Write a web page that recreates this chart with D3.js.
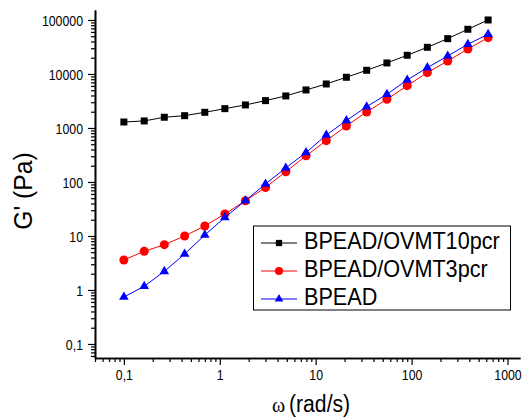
<!DOCTYPE html>
<html lang="en">
<head>
<meta charset="UTF-8">
<title>G' vs omega</title>
<script src="https://d3js.org/d3.v7.min.js"></script>
<style>
  body { margin: 0; background: #fff; }
  svg text { font-family: "Liberation Sans", Arial, sans-serif; fill: #000; }
</style>
</head>
<body>
<svg id="chart" width="524" height="419"></svg>
<script>
// values
const omega   = [0.1, 0.163, 0.264, 0.43, 0.698, 1.13, 1.85, 3.0, 4.88, 7.93, 12.9, 20.9, 34.0, 55.3, 90.0, 146, 238, 386, 628];
const g10pcr  = [1290, 1350, 1580, 1690, 1950, 2280, 2670, 3210, 3920, 5060, 6530, 8690, 11700, 16000, 22200, 31200, 45100, 67300, 100000];
const g3pcr   = [3.6, 5.2, 6.9, 10, 15.3, 25.5, 45, 79, 155, 305, 582, 1090, 1980, 3400, 6070, 10600, 17400, 29000, 47000];
const gPure   = [0.74, 1.17, 2.21, 4.64, 10.4, 22.1, 45, 92, 182, 350, 741, 1370, 2480, 4210, 7740, 13100, 21500, 35500, 54300];
const seriesNames = ["BPEAD/OVMT10pcr", "BPEAD/OVMT3pcr", "BPEAD"];
const xTicks = [0.1, 1, 10, 100, 1000];
const yTicks = [0.1, 1, 10, 100, 1000, 10000, 100000];
const tickLabel = v => v < 1 ? String(v).replace(".", ",") : String(v);

const svg = d3.select("#chart");
const plotLeft = 95, plotRight = 520, plotTop = 10, plotBottom = 358;

const x = d3.scaleLog().domain([0.05, 1350]).range([plotLeft, plotRight]);
const y = d3.scaleLog().domain([0.055, 153000]).range([plotBottom, plotTop]);

// squeeze text a bit, the original font is narrower than Arial
function squeeze(sel, k) {
    sel.each(function () {
        const w = this.getComputedTextLength();
        d3.select(this).attr("textLength", w * k).attr("lengthAdjust", "spacingAndGlyphs");
    });
}

function minorTicks(scale) {
    const [a, b] = scale.domain();
    const out = [];
    for (let e = Math.floor(Math.log10(a)); e <= Math.ceil(Math.log10(b)); e++) {
        for (let k = 2; k <= 9; k++) {
            const v = k * Math.pow(10, e);
            if (v >= a && v <= b) out.push(v);
        }
    }
    return out;
}

// axes
const gx = svg.append("g").attr("transform", `translate(0,${plotBottom})`);
gx.append("g").call(d3.axisBottom(x).tickValues(minorTicks(x)).tickSize(4).tickSizeOuter(0).tickFormat(""));
gx.append("g").call(d3.axisBottom(x).tickValues(xTicks).tickSize(7).tickSizeOuter(0).tickFormat(tickLabel));

const gy = svg.append("g").attr("transform", `translate(${plotLeft},0)`);
gy.append("g").call(d3.axisLeft(y).tickValues(minorTicks(y)).tickSize(4).tickSizeOuter(0).tickFormat(""));
gy.append("g").call(d3.axisLeft(y).tickValues(yTicks).tickSize(7).tickSizeOuter(0).tickFormat(tickLabel));

svg.selectAll(".domain").attr("stroke", "#000").attr("stroke-width", 1.6);
svg.selectAll(".tick line").attr("stroke", "#000").attr("stroke-width", 1.2);

gx.selectAll(".tick text")
    .attr("font-size", 14).attr("y", 12).attr("dy", "0.71em")
    .style("font-family", "Liberation Sans");
gy.selectAll(".tick text")
    .attr("font-size", 14).attr("x", -12).attr("dy", "0.36em")
    .style("font-family", "Liberation Sans");
squeeze(gx.selectAll(".tick text"), 0.88);
squeeze(gy.selectAll(".tick text"), 0.88);

// axis titles
const yTitle = svg.append("text")
    .attr("transform", "translate(32,191) rotate(-90)")
    .attr("text-anchor", "middle")
    .attr("font-size", 26)
    .text("G' (Pa)");
squeeze(yTitle, 0.95);

svg.append("text")
    .attr("x", 272).attr("y", 412)
    .attr("font-size", 20)
    .style("font-family", "Liberation Serif")
    .text("ω");
const xTitle = svg.append("text")
    .attr("x", 289).attr("y", 412)
    .attr("font-size", 23)
    .text("(rad/s)");
squeeze(xTitle, 0.92);

// series
const series = [
    { name: seriesNames[0], values: g10pcr, color: "#000000", shape: d3.symbolSquare, size: 49 },
    { name: seriesNames[1], values: g3pcr, color: "#ff0000", shape: d3.symbolCircle, size: 64 },
    { name: seriesNames[2], values: gPure, color: "#0000ff", shape: d3.symbolTriangle, size: 40 }
];

const line = d3.line().x(d => x(d[0])).y(d => y(d[1]));

series.forEach(s => {
    const pts = omega.map((w, i) => [w, s.values[i]]);
    svg.append("path")
        .datum(pts)
        .attr("d", line)
        .attr("fill", "none")
        .attr("stroke", s.color)
        .attr("stroke-width", 1);
    svg.selectAll(null)
        .data(pts)
        .enter().append("path")
        .attr("d", d3.symbol().type(s.shape).size(s.size))
        .attr("transform", d => `translate(${x(d[0])},${y(d[1])})`)
        .attr("fill", s.color);
});

// legend
const legend = svg.append("g");
legend.append("rect")
    .attr("x", 253.5).attr("y", 226)
    .attr("width", 257).attr("height", 84)
    .attr("fill", "#fff").attr("stroke", "#000").attr("stroke-width", 1);

series.forEach((s, i) => {
    const ry = 243 + i * 28;
    legend.append("line")
        .attr("x1", 261).attr("x2", 297)
        .attr("y1", ry).attr("y2", ry)
        .attr("stroke", s.color).attr("stroke-width", 1);
    legend.append("path")
        .attr("d", d3.symbol().type(s.shape).size(s.size * 0.8))
        .attr("transform", `translate(279,${ry})`)
        .attr("fill", s.color);
    const t = legend.append("text")
        .attr("x", 304).attr("y", ry + 6)
        .attr("font-size", 24)
        .text(s.name);
    squeeze(t, 0.9);
});
</script>
</body>
</html>
